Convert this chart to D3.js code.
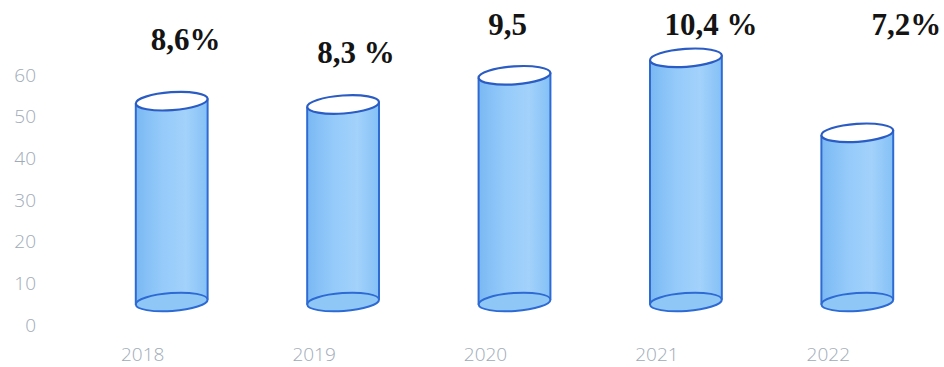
<!DOCTYPE html>
<html>
<head>
<meta charset="utf-8">
<script src="https://cdn.jsdelivr.net/npm/d3@7/dist/d3.min.js"></script>
<style>
  html, body { margin: 0; padding: 0; background: #ffffff; }
  svg { display: block; }
</style>
</head>
<body>
<svg id="chart" width="944" height="367"></svg>
<script>
// ---- data ----
const years = ["2018", "2019", "2020", "2021", "2022"];
const values = [48.2, 47.4, 54.4, 58.6, 40.6];
const growthLabels = ["8,6%", "8,3 %", "9,5", "10,4 %", "7,2%"];
const yTicks = [0, 10, 20, 30, 40, 50, 60];

// ---- layout ----
const svg = d3.select("#chart");
const x = d3.scaleBand().domain(years).range([57, 914]).paddingInner(0.6).paddingOuter(0.3);
const y = d3.scaleLinear().domain([0, 60]).range([325, 75]);
const depth = { dx: 29, dy: -23 };          // 3D projection offset of the floor
const rx = 36, ry = 9, tilt = -4;            // cylinder cap ellipse
const labelNudge = [ {dx: 14, y: 50}, {dx: 13, y: 63}, {dx: -7, y: 35}, {dx: 25, y: 35}, {dx: 49, y: 35} ];

const defs = svg.append("defs");
const grad = defs.append("linearGradient").attr("id", "body").attr("x1", "0").attr("x2", "1").attr("y1", "0").attr("y2", "0");
grad.append("stop").attr("offset", "0%").attr("stop-color", "#7ab8f3");
grad.append("stop").attr("offset", "35%").attr("stop-color", "#94cafa");
grad.append("stop").attr("offset", "70%").attr("stop-color", "#a3d2fb");
grad.append("stop").attr("offset", "100%").attr("stop-color", "#84c0f6");

const tickFont = "'Open Sans', 'Liberation Sans', sans-serif";

// y axis (text only)
const yAxis = d3.axisLeft(y).tickValues(yTicks).tickSize(0).tickPadding(0);
const gy = svg.append("g").attr("transform", "translate(36,0)").call(yAxis);
gy.select(".domain").remove();
gy.selectAll("text")
  .attr("fill", "#a0abb8")
  .style("font-family", tickFont)
  .style("font-weight", "300")
  .style("font-size", "19px");

// x axis (text only)
const xAxis = d3.axisBottom(x).tickSize(0).tickPadding(0);
const gx = svg.append("g").attr("transform", "translate(0,347)").call(xAxis);
gx.select(".domain").remove();
gx.selectAll("text")
  .attr("fill", "#a0abb8")
  .style("font-family", tickFont)
  .style("font-weight", "300")
  .style("font-size", "19px");

const rad = tilt * Math.PI / 180;
const ex = rx * Math.cos(rad), ey = rx * Math.sin(rad);

const bars = svg.append("g").selectAll("g.cyl")
  .data(years.map((yr, i) => ({ yr, v: values[i], i })))
  .join("g").attr("class", "cyl");

bars.each(function(d) {
  const g = d3.select(this);
  const cx = x(d.yr) + x.bandwidth() / 2 + depth.dx;
  const yT = y(d.v) + depth.dy;
  const yB = y(0) + depth.dy;
  const body = `M${cx - ex},${yT - ey} L${cx - ex},${yB - ey} A${rx},${ry} ${tilt} 0 0 ${cx + ex},${yB + ey} L${cx + ex},${yT + ey} A${rx},${ry} ${tilt} 0 0 ${cx - ex},${yT - ey} Z`;
  g.append("path").attr("d", body).attr("fill", "url(#body)").attr("stroke", "none");
  // bottom cap
  g.append("ellipse").attr("cx", cx).attr("cy", yB).attr("rx", rx).attr("ry", ry)
    .attr("transform", `rotate(${tilt},${cx},${yB})`)
    .attr("fill", "#8fc8f7").attr("stroke", "#2d6ad3").attr("stroke-width", 2);
  // sides
  g.append("line").attr("x1", cx - ex).attr("y1", yT - ey).attr("x2", cx - ex).attr("y2", yB - ey)
    .attr("stroke", "#2d6ad3").attr("stroke-width", 2);
  g.append("line").attr("x1", cx + ex).attr("y1", yT + ey).attr("x2", cx + ex).attr("y2", yB + ey)
    .attr("stroke", "#2d6ad3").attr("stroke-width", 2);
  // top cap
  g.append("ellipse").attr("cx", cx).attr("cy", yT).attr("rx", rx).attr("ry", ry)
    .attr("transform", `rotate(${tilt},${cx},${yT})`)
    .attr("fill", "#ffffff").attr("stroke", "#2a5cc4").attr("stroke-width", 2.2);
});

// growth labels
svg.append("g").selectAll("text")
  .data(growthLabels)
  .join("text")
  .attr("x", (d, i) => x(years[i]) + x.bandwidth() / 2 + depth.dx + labelNudge[i].dx)
  .attr("y", (d, i) => labelNudge[i].y)
  .attr("text-anchor", "middle")
  .style("font-family", "'Liberation Serif', 'Times New Roman', serif")
  .style("font-weight", "bold")
  .style("font-size", "31px")
  .attr("fill", "#141414")
  .text(d => d);
</script>
</body>
</html>
